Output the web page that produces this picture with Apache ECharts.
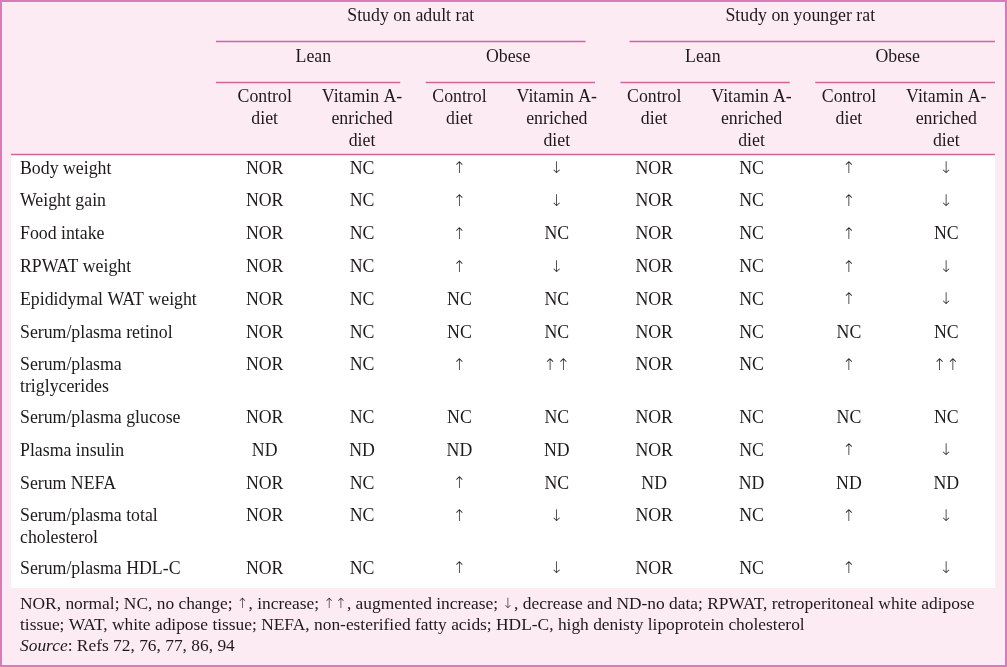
<!DOCTYPE html>
<html><head><meta charset="utf-8">
<script src="https://cdn.jsdelivr.net/npm/echarts@6/dist/echarts.min.js"></script>
<style>html,body{margin:0;padding:0;background:#fdebf4}#c{width:1007px;height:667px}</style>
</head><body><div id="c"></div>
<script>
// ---------- data ----------
const studies = ['Study on adult rat', 'Study on younger rat'];
const groups = ['Lean', 'Obese', 'Lean', 'Obese'];
const diets = [
  'Control\ndiet', 'Vitamin A-\nenriched\ndiet', 'Control\ndiet', 'Vitamin A-\nenriched\ndiet',
  'Control\ndiet', 'Vitamin A-\nenriched\ndiet', 'Control\ndiet', 'Vitamin A-\nenriched\ndiet'
];
const parameters = [
  'Body weight', 'Weight gain', 'Food intake', 'RPWAT weight', 'Epididymal WAT weight',
  'Serum/plasma retinol', 'Serum/plasma\ntriglycerides', 'Serum/plasma glucose',
  'Plasma insulin', 'Serum NEFA', 'Serum/plasma total\ncholesterol', 'Serum/plasma HDL-C'
];
const adultLeanControl   = ['NOR','NOR','NOR','NOR','NOR','NOR','NOR','NOR','ND','NOR','NOR','NOR'];
const adultLeanVitA      = ['NC','NC','NC','NC','NC','NC','NC','NC','ND','NC','NC','NC'];
const adultObeseControl  = ['↑','↑','↑','↑','NC','NC','↑','NC','ND','↑','↑','↑'];
const adultObeseVitA     = ['↓','↓','NC','↓','NC','NC','↑↑','NC','ND','NC','↓','↓'];
const youngLeanControl   = ['NOR','NOR','NOR','NOR','NOR','NOR','NOR','NOR','NOR','ND','NOR','NOR'];
const youngLeanVitA      = ['NC','NC','NC','NC','NC','NC','NC','NC','NC','ND','NC','NC'];
const youngObeseControl  = ['↑','↑','↑','↑','↑','NC','↑','NC','↑','ND','↑','↑'];
const youngObeseVitA     = ['↓','↓','NC','↓','↓','NC','↑↑','NC','↓','ND','↓','↓'];
const footnoteLines = [
  'NOR, normal; NC, no change; ↑, increase; ↑↑, augmented increase; ↓, decrease and ND-no data; RPWAT, retroperitoneal white adipose',
  'tissue; WAT, white adipose tissue; NEFA, non-esterified fatty acids; HDL-C, high denisty lipoprotein cholesterol'
];
const sourceLabel = 'Source';
const sourceText = ': Refs 72, 76, 77, 86, 94';

// ---------- derived structure ----------
const columns = [adultLeanControl, adultLeanVitA, adultObeseControl, adultObeseVitA,
                 youngLeanControl, youngLeanVitA, youngObeseControl, youngObeseVitA];
const lineCount = parameters.map(p => p.split('\n').length);
const rowTop = [];
let acc = 0;
lineCount.forEach(n => { rowTop.push(acc); acc += 1 + 0.6 * (n - 1); });
const totalSlots = acc;

const cells = [];
columns.forEach((col, c) => col.forEach((t, r) => cells.push({ c, r, t })));

const headerCells = [];
studies.forEach((s, i) => headerCells.push({ a: i * 4, b: i * 4 + 3, level: 0, text: s }));
groups.forEach((g, i) => headerCells.push({ a: i * 2, b: i * 2 + 1, level: 1, text: g }));
diets.forEach((d, i) => headerCells.push({ a: i, b: i, level: 2, text: d }));

// ---------- style ----------
const FONT = '"Liberation Serif", "Times New Roman", serif';
const FS = 17.8;
const FS_FOOT = 17.4;
const TXT = '#1e1a1c';
const RULE = '#d4629f';
const levelTextTop = [5, 46, 86];
const levelLineY = [41.5, 82.5];
const insetL = [24, 15];
const insetR = [20, 10.5];
const arrowRich = s => s.replace(/[↑↓]+/g, m => '{a|' + m + '}');
const baseStyle = (text, align, fs, arrowFs, lh) => ({
  text: arrowRich(text), fontFamily: FONT, fontSize: fs || FS, fill: TXT, align, verticalAlign: 'top', lineHeight: lh || 22,
  rich: { a: { fontFamily: 'DejaVu Sans', fontSize: arrowFs || 16, fill: '#2a2628', lineHeight: lh || 22, fontWeight: 200 } }
});

const chart = echarts.init(document.getElementById('c'), null, { renderer: 'canvas' });
chart.setOption({
  animation: false,
  backgroundColor: '#fdebf4',
  grid: { left: 216, right: 12, top: 155, bottom: 79 },
  xAxis: { type: 'category', data: diets, show: false, boundaryGap: true },
  yAxis: { type: 'value', inverse: true, min: 0, max: totalSlots, show: false },
  graphic: [
    { type: 'rect', z: 0, shape: { x: 11, y: 155, width: 984, height: 433 }, style: { fill: '#ffffff' } },
    { type: 'rect', z: 0, shape: { x: 1, y: 1, width: 1005, height: 665 }, style: { fill: null, stroke: '#d97cb6', lineWidth: 2 } },
    { type: 'line', z: 5, shape: { x1: 11, y1: 154.5, x2: 995, y2: 154.5 }, style: { stroke: RULE, lineWidth: 1.3 } },
    { type: 'text', z: 5, x: 20, y: 594, style: baseStyle(footnoteLines.join('\n'), 'left', FS_FOOT, 14, 21) },
    { type: 'text', z: 5, x: 20, y: 636, style: {
        text: '{i|' + sourceLabel + '}' + sourceText, fontFamily: FONT, fontSize: FS_FOOT, fill: TXT, lineHeight: 21, verticalAlign: 'top',
        rich: { i: { fontStyle: 'italic', fontFamily: FONT, fontSize: FS_FOOT, fill: TXT, lineHeight: 21 } }
    } }
  ],
  series: [
    {
      type: 'custom', name: 'header', z: 4,
      data: headerCells.map(h => [h.a, 0]),
      encode: { x: 0, y: 1 },
      renderItem(params, api) {
        const h = headerCells[params.dataIndex];
        const bw = api.size([1, 0])[0];
        const left = api.coord([h.a, 0])[0] - bw / 2;
        const right = api.coord([h.b, 0])[0] + bw / 2;
        const children = [{ type: 'text', x: (left + right) / 2, y: levelTextTop[h.level], style: baseStyle(h.text, 'center') }];
        if (h.level < 2) {
          const l = h.a === 0 ? left : left + insetL[h.level];
          const r = h.b === diets.length - 1 ? right : right - insetR[h.level];
          children.push({ type: 'line', shape: { x1: l, y1: levelLineY[h.level], x2: r, y2: levelLineY[h.level] },
            style: { stroke: RULE, lineWidth: 1.3 } });
        }
        return { type: 'group', children };
      }
    },
    {
      type: 'custom', name: 'parameters', z: 4,
      data: parameters.map((p, i) => [0, rowTop[i]]),
      encode: { x: 0, y: 1 },
      renderItem(params, api) {
        const p = api.coord([0, api.value(1)]);
        return { type: 'text', x: 20, y: p[1] + 3, style: baseStyle(parameters[params.dataIndex], 'left') };
      }
    },
    {
      type: 'custom', name: 'cells', z: 4,
      data: cells.map(c => [c.c, rowTop[c.r]]),
      encode: { x: 0, y: 1 },
      renderItem(params, api) {
        const p = api.coord([api.value(0), api.value(1)]);
        return { type: 'text', x: p[0], y: p[1] + 3, style: baseStyle(cells[params.dataIndex].t, 'center') };
      }
    }
  ]
});
</script></body></html>
